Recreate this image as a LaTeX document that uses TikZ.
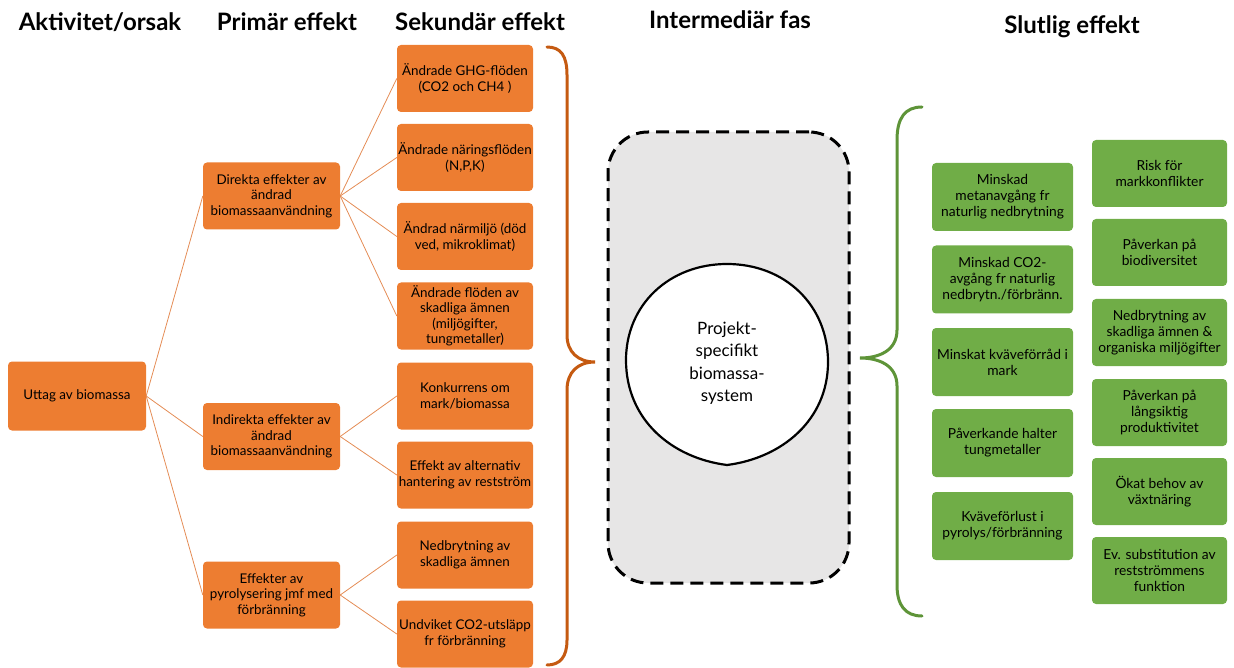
\documentclass[tikz,border=0pt]{standalone}
\usepackage{fontspec}
\setmainfont{Lato}
\usepackage{tikz}
\definecolor{boxorange}{RGB}{237,125,49}
\definecolor{lineorange}{RGB}{228,140,85}
\definecolor{braceorange}{RGB}{197,90,17}
\definecolor{boxgreen}{RGB}{112,173,71}
\definecolor{bracegreen}{RGB}{94,148,56}
\definecolor{phasegray}{RGB}{231,230,230}
\begin{document}
\begin{tikzpicture}[x=1pt, y=-1pt,
  head/.style={font=\fontsize{24}{28}\selectfont\bfseries},
  obox/.style={fill=boxorange, rounded corners=4pt, minimum width=136, minimum height=67, align=center, inner sep=1pt, font=\fontsize{13.4}{15.5}\selectfont},
  gbox/.style={fill=boxgreen, rounded corners=4pt, minimum height=68, align=center, inner sep=1pt, font=\fontsize{13.8}{16}\selectfont},
  link/.style={draw=lineorange, line width=0.8pt}]
\useasboundingbox (0,0) rectangle (1234,668);
\node[head] (h1) at (100,22) {Aktivitet/orsak};
\node[head] (h2) at (287,22) {Primär effekt};
\node[head] (h3) at (480,22) {Sekundär effekt};
\node[head] (h4) at (730,20) {Intermediär fas};
\node[head] (h5) at (1072,27) {Slutlig effekt};
\node[obox, minimum width=138, minimum height=69] (uttag) at (77,396) {Uttag av biomassa};
\node[obox, minimum width=137] (direkt) at (271.5,196) {Direkta effekter av\\ändrad\\biomassaanvändning};
\node[obox, minimum width=137] (indirekt) at (271.5,436.5) {Indirekta effekter av\\ändrad\\biomassaanvändning};
\node[obox, minimum width=137] (pyro) at (271.5,595) {Effekter av\\pyrolysering jmf med\\förbränning};
\node[obox] (ghg) at (465,78.5) {Ändrade GHG-flöden\\(CO2 och CH4 )};
\node[obox] (naring) at (465,157.5) {Ändrade näringsflöden\\(N,P,K)};
\node[obox] (narmiljo) at (465,236.5) {Ändrad närmiljö (död\\ved, mikroklimat)};
\node[obox] (skadlig) at (465,316) {Ändrade flöden av\\skadliga ämnen\\(miljögifter,\\tungmetaller)};
\node[obox] (konkurrens) at (465,396) {Konkurrens om\\mark/biomassa};
\node[obox] (altern) at (465,475) {Effekt av alternativ\\hantering av restström};
\node[obox] (nedbr) at (465,555) {Nedbrytning av\\skadliga ämnen};
\node[obox] (undvik) at (465,634) {Undviket CO2-utsläpp\\fr förbränning};
\draw[link] (uttag.east) -- (direkt.west);
\draw[link] (uttag.east) -- (indirekt.west);
\draw[link] (uttag.east) -- (pyro.west);
\draw[link] (direkt.east) -- (ghg.west);
\draw[link] (direkt.east) -- (naring.west);
\draw[link] (direkt.east) -- (narmiljo.west);
\draw[link] (direkt.east) -- (skadlig.west);
\draw[link] (indirekt.east) -- (konkurrens.west);
\draw[link] (indirekt.east) -- (altern.west);
\draw[link] (pyro.east) -- (nedbr.west);
\draw[link] (pyro.east) -- (undvik.west);
\draw[braceorange, line width=3pt, line cap=round] (547,47) .. controls (561,47) and (567,56) .. (567,75) -- (567,335) .. controls (567,352) and (578,362) .. (595,362) .. controls (578,362) and (567,372) .. (567,390) -- (567,640) .. controls (567,657) and (560,665) .. (547,665);
\node[draw, dashed, dash pattern=on 13pt off 7pt, line width=3pt, fill=phasegray, rounded corners=40pt, minimum width=241, minimum height=451] (fas) at (728.5,357.5) {};
\draw[line width=2.2pt, fill=white] (727,264) .. controls (785,264) and (828,305) .. (828,362) .. controls (828,420) and (782,458) .. (727,465) .. controls (672,458) and (626,420) .. (626,360) .. controls (626,305) and (669,264) .. (727,264);
\node[align=center, font=\fontsize{17}{22.5}\selectfont] (system) at (727,363) {Projekt-\\specifikt\\biomassa-\\system};
\draw[bracegreen, line width=3pt, line cap=round] (922,107) .. controls (905,107) and (897,118) .. (897,140) -- (897,330) .. controls (897,350) and (880,358) .. (860,358) .. controls (880,358) and (897,366) .. (897,386) -- (897,585) .. controls (897,605) and (905,616) .. (922,616);
\node[gbox, minimum width=141] (metan) at (1002.5,197) {Minskad\\metanavgång fr\\naturlig nedbrytning};
\node[gbox, minimum width=141] (co2) at (1002.5,279.5) {Minskad CO2-\\avgång fr naturlig\\nedbrytn./förbränn.};
\node[gbox, minimum width=141] (kvave) at (1002.5,362) {Minskat kväveförråd i\\mark};
\node[gbox, minimum width=141] (halter) at (1002.5,443) {Påverkande halter\\tungmetaller};
\node[gbox, minimum width=141] (forlust) at (1002.5,526) {Kväveförlust i\\pyrolys/förbränning};
\node[gbox, minimum width=135, minimum height=67] (risk) at (1159.5,173.5) {Risk för\\markkonflikter};
\node[gbox, minimum width=135, minimum height=67] (biodiv) at (1159.5,252.5) {Påverkan på\\biodiversitet};
\node[gbox, minimum width=135, minimum height=67] (organ) at (1159.5,332.5) {Nedbrytning av\\skadliga ämnen \&\\organiska miljögifter};
\node[gbox, minimum width=135, minimum height=67] (prod) at (1159.5,412.5) {Påverkan på\\långsiktig\\produktivitet};
\node[gbox, minimum width=135, minimum height=67] (behov) at (1159.5,491.5) {Ökat behov av\\växtnäring};
\node[gbox, minimum width=135, minimum height=67] (subst) at (1159.5,570.5) {Ev. substitution av\\restströmmens\\funktion};
\end{tikzpicture}
\end{document}
